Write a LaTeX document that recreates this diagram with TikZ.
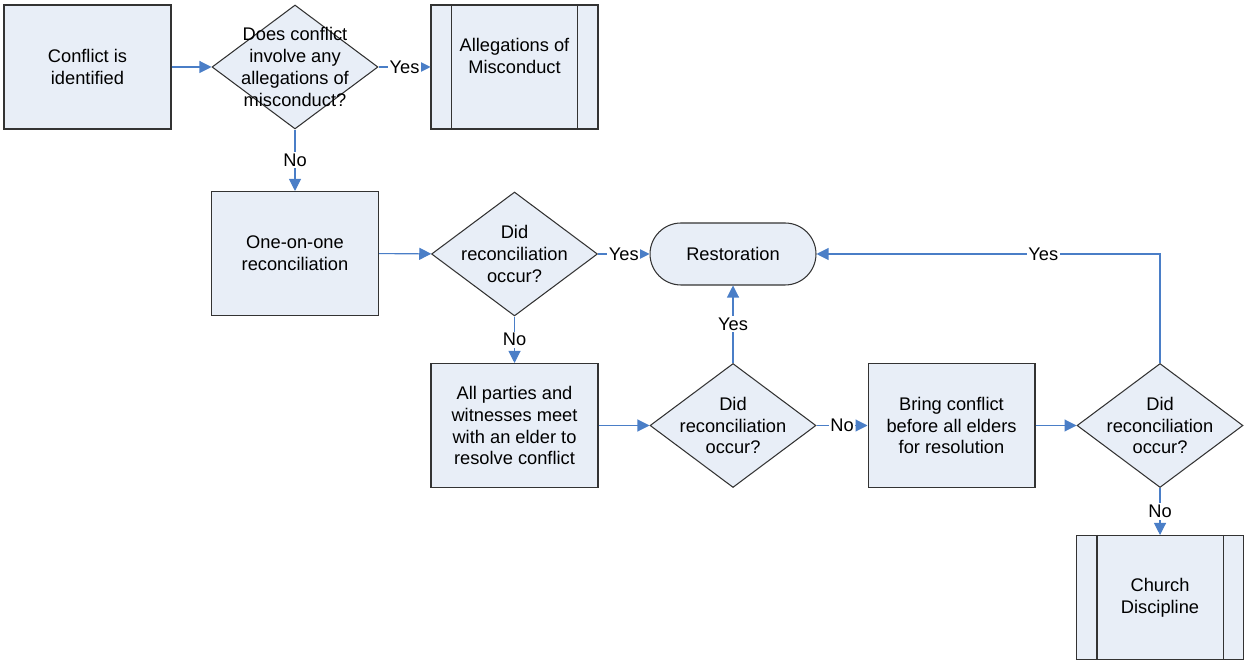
\documentclass[tikz,border=0pt]{standalone}
\usepackage{fontspec}
\setmainfont{Liberation Sans}
\usetikzlibrary{shapes.geometric,arrows.meta}
\definecolor{boxfill}{HTML}{E8EEF7}
\definecolor{boxline}{HTML}{333333}
\definecolor{flowblue}{HTML}{4A7EC7}

\begin{document}
\begin{tikzpicture}[x=0.02cm,y=-0.02cm,
  font=\fontsize{10.4}{12.5}\selectfont,
  every node/.style={align=center},
  proc/.style={draw=boxline,fill=boxfill,line width=0.6pt,
    minimum width=3.34cm,minimum height=2.48cm,inner sep=0pt},
  decision/.style={diamond,draw=boxline,fill=boxfill,line width=0.6pt,
    minimum width=3.32cm,minimum height=2.48cm,inner sep=0pt},
  terminal/.style={draw=boxline,fill=boxfill,line width=0.6pt,
    rounded corners=0.62cm,minimum width=3.32cm,minimum height=1.24cm,inner sep=0pt},
  flow/.style={draw=flowblue,line width=0.6pt,-{Triangle[length=0.24cm,width=0.24cm]}},
  lbl/.style={fill=white,inner sep=1pt}]
\useasboundingbox (0,0) rectangle (1246,661);

\node[proc] (start) at (87.5,67) {Conflict is\\identified};
\node[decision,label=center:{Does conflict\\involve any\\allegations of\\misconduct?}] (q1) at (295,67) {};
\node[proc,label={[yshift=0.22cm]center:Allegations of\\Misconduct}] (misc) at (514.5,67) {};
\node[proc] (one) at (295,253.5) {One-on-one\\reconciliation};
\node[decision,label=center:{Did\\reconciliation\\occur?}] (q2) at (514.5,254) {};
\node[terminal] (rest) at (733,254) {Restoration};
\node[proc] (meet) at (514.5,425.5) {All parties and\\witnesses meet\\with an elder to\\resolve conflict};
\node[decision,label=center:{Did\\reconciliation\\occur?}] (q3) at (733,425.5) {};
\node[proc] (elders) at (951.5,425.5) {Bring conflict\\before all elders\\for resolution};
\node[decision,label=center:{Did\\reconciliation\\occur?}] (q4) at (1160,425.5) {};
\node[proc] (disc) at (1160,597.5) {Church\\Discipline};

% side bars of the sub-process boxes
\draw[boxline,line width=0.6pt] ([xshift=0.42cm]misc.north west) -- ([xshift=0.42cm]misc.south west)
  ([xshift=-0.42cm]misc.north east) -- ([xshift=-0.42cm]misc.south east);
\draw[boxline,line width=0.6pt] ([xshift=0.42cm]disc.north west) -- ([xshift=0.42cm]disc.south west)
  ([xshift=-0.42cm]disc.north east) -- ([xshift=-0.42cm]disc.south east);

\draw[flow] (start) -- (q1);
\draw[flow] (q1) -- node[lbl]{Yes} (misc);
\draw[flow] (q1) -- node[lbl]{No} (one);
\draw[flow] (one) -- (q2);
\draw[flow] (q2) -- node[lbl]{Yes} (rest);
\draw[flow] (q2) -- node[lbl]{No} (meet);
\draw[flow] (meet) -- (q3);
\draw[flow] (q3) -- node[lbl]{Yes} (rest);
\draw[flow] (q3) -- node[lbl]{No} (elders);
\draw[flow] (elders) -- (q4);
\draw[flow] (q4) |- node[lbl,pos=0.67]{Yes} (rest);
\draw[flow] (q4) -- node[lbl]{No} (disc);
\end{tikzpicture}
\end{document}
